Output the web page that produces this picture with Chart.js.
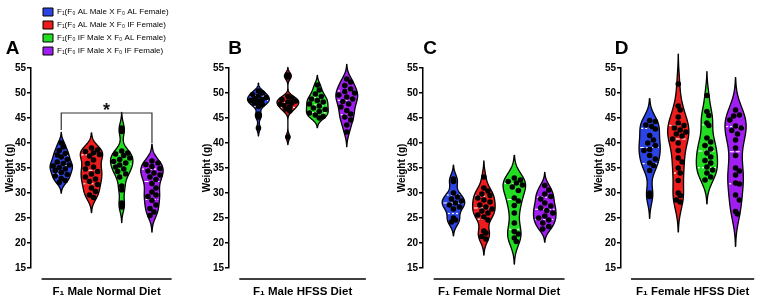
<!DOCTYPE html>
<html><head><meta charset="utf-8">
<script src="https://cdn.jsdelivr.net/npm/chart.js@4.4.1/dist/chart.umd.min.js"></script>
<style>
html,body{margin:0;padding:0;background:#fff;width:767px;height:306px;overflow:hidden;position:relative}
canvas{position:absolute;top:0}
</style></head><body>
<script>
// ---------- labels / categories ----------
const groupLabels = [
  'F\u2081(F\u2080 AL Male X F\u2080 AL Female)',
  'F\u2081(F\u2080 AL Male X F\u2080 IF Female)',
  'F\u2081(F\u2080 IF Male X F\u2080 AL Female)',
  'F\u2081(F\u2080 IF Male X F\u2080 IF Female)'
];
const panelLetters = ['A', 'B', 'C', 'D'];
const panelTitles = ['F\u2081 Male Normal Diet', 'F\u2081 Male HFSS Diet', 'F\u2081 Female Normal Diet', 'F\u2081 Female HFSS Diet'];
const yAxisTitle = 'Weight (g)';
const yTickMin = 15, yTickMax = 55, yTickStep = 5;
const sigComparisons = [{ panel: 0, from: 0, to: 3, at: 46, text: '*' }];

// ---------- values (g) ----------
// Panel A: F1 male, normal diet
const maleNormalAlAl = [40.0, 39.2, 38.5, 37.9, 37.6, 37.2, 36.7, 36.2, 35.9, 35.6, 35.4, 35.1, 34.8, 34.5, 34.1, 33.7, 33.4, 32.9, 32.5, 32.1];
const maleNormalAlIf = [39.0, 38.6, 38.3, 38.0, 37.7, 37.4, 36.6, 35.9, 35.2, 34.8, 34.3, 33.8, 33.2, 32.8, 32.3, 31.7, 31.0, 30.3, 29.6, 29.1];
const maleNormalIfAl = [43.0, 42.3, 38.4, 38.0, 37.8, 37.5, 37.0, 36.7, 36.3, 36.0, 35.6, 35.2, 34.8, 34.3, 33.8, 33.2, 31.4, 30.6, 28.0, 27.2];
const maleNormalIfIf = [36.4, 36.0, 35.7, 35.3, 34.9, 34.4, 34.0, 33.6, 33.2, 32.7, 31.9, 31.0, 30.2, 29.6, 29.3, 28.5, 27.6, 26.9, 26.2, 25.5];
// Panel B: F1 male, HFSS diet
const maleHfssAlAl = [50.4, 50.0, 49.7, 49.4, 49.1, 48.9, 48.7, 48.5, 48.3, 48.0, 47.7, 47.3, 45.8, 45.2, 43.0];
const maleHfssAlIf = [53.6, 53.2, 49.3, 49.0, 48.7, 48.4, 48.2, 48.0, 47.8, 47.5, 47.2, 46.8, 46.4, 41.2];
const maleHfssIfAl = [51.6, 50.6, 49.8, 49.3, 48.8, 48.5, 48.2, 47.8, 47.4, 47.0, 46.7, 46.3, 46.0, 45.6, 45.3, 45.0];
const maleHfssIfIf = [52.8, 52.2, 51.5, 50.8, 50.3, 50.0, 49.6, 49.2, 48.8, 48.3, 47.8, 47.2, 46.5, 45.8, 45.2, 44.6, 43.6, 42.2];
// Panel C: F1 female, normal diet
const femaleNormalAlAl = [32.8, 32.3, 30.0, 29.2, 28.8, 28.4, 28.0, 27.6, 27.2, 26.8, 25.0, 24.6, 24.2];
const femaleNormalAlIf = [33.2, 31.0, 30.4, 29.8, 29.5, 29.0, 28.6, 28.2, 27.6, 27.2, 26.8, 26.4, 26.0, 25.6, 25.2, 24.6, 22.4, 22.0, 21.3, 20.8];
const femaleNormalIfAl = [33.0, 32.6, 32.3, 32.0, 31.6, 31.2, 30.5, 29.0, 28.4, 27.5, 26.0, 24.0, 22.3, 21.8, 21.0, 20.3];
const femaleNormalIfIf = [31.5, 30.6, 29.8, 29.3, 28.8, 28.0, 27.4, 27.0, 26.5, 26.0, 25.4, 25.0, 24.6, 24.0, 23.3, 22.8];
// Panel D: F1 female, HFSS diet
const femaleHfssAlAl = [44.5, 44.3, 43.6, 43.3, 42.8, 41.5, 40.6, 40.0, 39.5, 38.7, 38.5, 37.5, 36.8, 36.0, 35.5, 34.5, 30.0, 29.3];
const femaleHfssAlIf = [51.8, 47.4, 46.6, 45.2, 44.0, 43.5, 43.0, 42.6, 42.2, 41.8, 41.4, 40.8, 40.0, 38.5, 37.0, 36.2, 35.0, 34.0, 32.5, 30.0, 29.5, 28.6, 28.2];
const femaleHfssIfAl = [49.5, 46.3, 45.5, 44.0, 43.5, 41.0, 40.2, 39.5, 38.8, 38.0, 37.2, 36.5, 36.0, 35.2, 34.6, 34.0, 33.2, 32.6];
const femaleHfssIfIf = [46.6, 45.6, 45.4, 44.6, 43.4, 43.0, 42.5, 41.8, 40.6, 39.0, 37.5, 35.0, 34.4, 33.6, 32.0, 31.8, 29.6, 28.6, 26.3, 25.8];

const panelSeries = [
  [maleNormalAlAl, maleNormalAlIf, maleNormalIfAl, maleNormalIfIf],
  [maleHfssAlAl, maleHfssAlIf, maleHfssIfAl, maleHfssIfIf],
  [femaleNormalAlAl, femaleNormalAlIf, femaleNormalIfAl, femaleNormalIfIf],
  [femaleHfssAlAl, femaleHfssAlIf, femaleHfssIfAl, femaleHfssIfIf]
];

// ---------- style ----------
const FONT = "'Liberation Sans', Arial, Helvetica, sans-serif";
const groupColors = ['#2c44e4', '#ee1c1c', '#22dd22', '#a01ff0'];
const panelLayout = [
  { left: 0,   width: 185, yWidth: 31, titlePad: 4,  padTop: 6,  letterDx: -18.5 },
  { left: 185, width: 194, yWidth: 44, titlePad: 16, padTop: 68, letterDx: 6 },
  { left: 380, width: 198, yWidth: 43, titlePad: 16, padTop: 68, letterDx: 7 },
  { left: 578, width: 189, yWidth: 43, titlePad: 15, padTop: 68, letterDx: 0.5 }
];
const HALF_W = 0.37;     // violin half width (category units)
const PX_PER_G = 5, PX_PER_UNIT = 30, DOT_D = 5.6;

// ---------- statistics ----------
function quant(s, p) {
  const n = s.length;
  let r = p * (n + 1) - 1;
  r = Math.max(0, Math.min(n - 1, r));
  const i = Math.floor(r), f = r - i;
  return i + 1 < n ? s[i] + (s[i + 1] - s[i]) * f : s[i];
}
function kde(vals) {
  const s = vals.slice().sort((a, b) => a - b);
  const n = s.length;
  const mean = s.reduce((a, b) => a + b, 0) / n;
  const sd = Math.sqrt(s.reduce((a, b) => a + (b - mean) * (b - mean), 0) / (n - 1));
  const q1 = quant(s, 0.25), q3 = quant(s, 0.75), med = quant(s, 0.5);
  const spread = Math.min(sd, (q3 - q1) / 1.34) || sd;
  const h = Math.max(0.55, 0.8 * 0.9 * spread * Math.pow(n, -0.2));
  const raw = v => { let d = 0; for (const x of s) d += Math.exp(-0.5 * ((v - x) / h) ** 2); return d; };
  const lo = s[0] - 2.4 * h, hi = s[n - 1] + 2.4 * h;
  const N = 180, pts = [];
  let max = 0;
  for (let i = 0; i <= N; i++) { const v = lo + (hi - lo) * i / N; const d = raw(v); pts.push([v, d]); if (d > max) max = d; }
  pts.forEach(p => p[1] /= max);
  return { pts, lo, hi, q1, q3, med, top: s[n - 1] + 2 * h, densAt: v => raw(v) / max };
}
function swarm(vals, k) {
  const placed = [], xs = new Array(vals.length);
  const order = vals.map((v, i) => i).sort((a, b) => vals[b] - vals[a]);
  for (const i of order) {
    const v = vals[i];
    const lim = Math.max(0, k.densAt(v) * HALF_W * PX_PER_UNIT - 2.2);
    const cands = [0];
    for (let o = 2; o <= lim; o += 2) cands.push(o, -o);
    let best = 0, bestD = -1;
    for (const c of cands) {
      let md = Infinity;
      for (const p of placed) { const d = Math.hypot(c - p[0], (v - p[1]) * PX_PER_G); if (d < md) md = d; }
      if (md >= DOT_D) { best = c; break; }
      if (md > bestD) { bestD = md; best = c; }
    }
    placed.push([best, v]);
    xs[i] = best / PX_PER_UNIT;
  }
  return xs;
}

const panelKdes = panelSeries.map(series => series.map(kde));

// ---------- charts ----------
function makeViolinPlugin(pi) {
  const L = panelLayout[pi];
  const kdes = panelKdes[pi];
  return {
    id: 'violins' + pi,
    afterLayout(chart) {
      if (pi === 0 && chart.legend) {
        const lg = chart.legend;
        lg.left += 7; lg.right += 7;
        lg.top -= 3; lg.bottom -= 3;
      }
    },
    beforeDatasetsDraw(chart) {
      const xs = chart.scales.x, ys = chart.scales.y, ctx = chart.ctx;
      const hw = (xs.getPixelForValue(1) - xs.getPixelForValue(0)) * HALF_W;
      kdes.forEach((k, g) => {
        const cx = xs.getPixelForValue(g);
        ctx.save();
        ctx.beginPath();
        k.pts.forEach((p, i) => { const px = cx + p[1] * hw, py = ys.getPixelForValue(p[0]); i ? ctx.lineTo(px, py) : ctx.moveTo(px, py); });
        for (let i = k.pts.length - 1; i >= 0; i--) { const p = k.pts[i]; ctx.lineTo(cx - p[1] * hw, ys.getPixelForValue(p[0])); }
        ctx.closePath();
        ctx.fillStyle = groupColors[g];
        ctx.fill();
        ctx.lineWidth = 1.3; ctx.lineJoin = 'round'; ctx.strokeStyle = '#000';
        ctx.stroke();
        [[k.q1, [2, 2]], [k.med, [4, 2]], [k.q3, [2, 2]]].forEach(([q, dash]) => {
          const w = k.densAt(q) * hw - 1.2, py = ys.getPixelForValue(q);
          ctx.beginPath(); ctx.setLineDash(dash);
          ctx.moveTo(cx - w, py); ctx.lineTo(cx + w, py);
          ctx.strokeStyle = '#fff'; ctx.lineWidth = 1.2; ctx.stroke();
        });
        ctx.restore();
      });
    },
    afterDraw(chart) {
      const xs = chart.scales.x, ys = chart.scales.y, ctx = chart.ctx, ca = chart.chartArea;
      const n = kdes.length;
      ctx.save();
      ctx.beginPath();
      ctx.moveTo(xs.getPixelForValue(-0.65), ca.bottom + 11);
      ctx.lineTo(xs.getPixelForValue(n - 1 + 0.65), ca.bottom + 11);
      ctx.strokeStyle = '#000'; ctx.lineWidth = 1.5; ctx.stroke();
      ctx.fillStyle = '#000';
      ctx.font = 'bold 19px ' + FONT;
      ctx.textAlign = 'center'; ctx.textBaseline = 'middle';
      ctx.fillText(panelLetters[pi], ca.left + L.letterDx, ca.top - 19);
      sigComparisons.filter(c => c.panel === pi).forEach(c => {
        const x1 = xs.getPixelForValue(c.from), x2 = xs.getPixelForValue(c.to), yl = ys.getPixelForValue(c.at);
        const y1 = ys.getPixelForValue(kdes[c.from].top + 0.8), y2 = ys.getPixelForValue(kdes[c.to].top + 0.8);
        ctx.beginPath();
        ctx.moveTo(x1, y1); ctx.lineTo(x1, yl); ctx.lineTo(x2, yl); ctx.lineTo(x2, y2);
        ctx.strokeStyle = '#333'; ctx.lineWidth = 1.2; ctx.stroke();
        ctx.font = 'bold 18px ' + FONT; ctx.textBaseline = 'alphabetic'; ctx.fillStyle = '#111';
        ctx.fillText(c.text, (x1 + x2) / 2, yl + 3);
      });
      ctx.restore();
    }
  };
}

panelSeries.forEach((series, pi) => {
  const L = panelLayout[pi];
  const cv = document.createElement('canvas');
  cv.width = L.width; cv.height = 306;
  cv.style.left = L.left + 'px';
  cv.style.width = L.width + 'px'; cv.style.height = '306px';
  document.body.appendChild(cv);
  const kdes = panelKdes[pi];
  const datasets = series.map((vals, g) => {
    const dx = swarm(vals, kdes[g]);
    return {
      label: groupLabels[g],
      data: vals.map((v, i) => ({ x: g + dx[i], y: v })),
      backgroundColor: groupColors[g],
      pointBackgroundColor: '#000', pointBorderColor: '#000',
      pointRadius: 2.8, pointBorderWidth: 0, pointHoverRadius: 2.8
    };
  });
  const showLegend = pi === 0;
  new Chart(cv, {
    type: 'scatter',
    data: { datasets },
    options: {
      responsive: false, animation: false, devicePixelRatio: 1,
      events: [],
      layout: { padding: { top: L.padTop, left: 0, right: 0, bottom: 0 } },
      plugins: {
        tooltip: { enabled: false },
        title: { display: false },
        legend: {
          display: showLegend, position: 'top', align: 'start', fullSize: false,
          labels: {
            boxWidth: 10, boxHeight: 8, padding: 5, color: '#000',
            font: { family: FONT, size: 8 },
            generateLabels: ch => ch.data.datasets.map((d, i) => ({
              text: d.label, fillStyle: groupColors[i], strokeStyle: '#000', lineWidth: 1, datasetIndex: i, hidden: false
            }))
          }
        }
      },
      scales: {
        x: {
          type: 'linear', min: -1, max: 4,
          ticks: { display: false }, grid: { display: false }, border: { display: false },
          title: { display: true, text: panelTitles[pi], color: '#000', font: { family: FONT, size: 11.5, weight: 'bold' }, padding: { top: 0, bottom: 7 } },
          afterFit: s => { s.height = 38; }
        },
        y: {
          min: yTickMin, max: yTickMax,
          ticks: { stepSize: yTickStep, color: '#000', padding: 1, font: { family: FONT, size: 10, weight: 'bold' } },
          grid: { display: true, drawOnChartArea: false, drawTicks: true, tickLength: 4, color: '#000', lineWidth: 1.5 },
          border: { display: true, color: '#000', width: 1.5 },
          title: { display: true, text: yAxisTitle, color: '#000', font: { family: FONT, size: 10, weight: 'bold' }, padding: { top: L.titlePad, bottom: 0 } },
          afterFit: s => { s.width = L.yWidth; }
        }
      }
    },
    plugins: [makeViolinPlugin(pi)]
  });
});
</script>
</body></html>
